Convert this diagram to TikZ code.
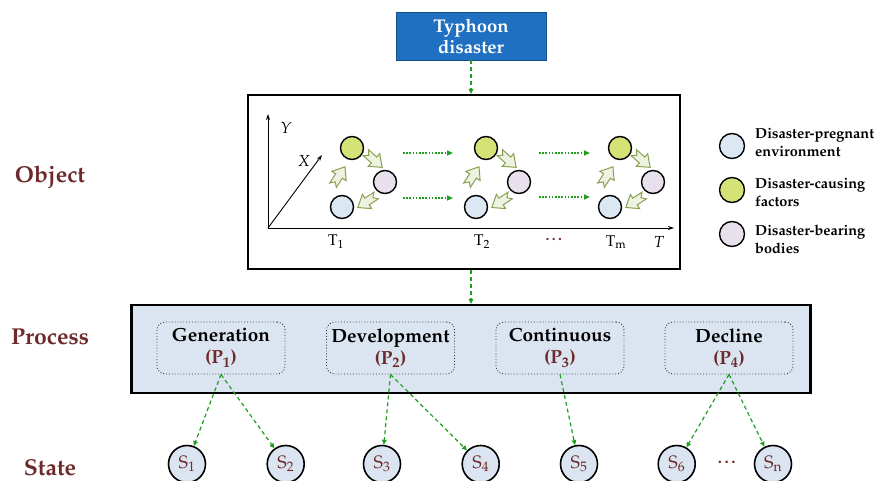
\documentclass[tikz,border=0pt]{standalone}
\usepackage[T1]{fontenc}
\usepackage{mathpazo}
\usetikzlibrary{arrows.meta}

\definecolor{typhblue}{RGB}{31,112,193}
\definecolor{dred}{RGB}{110,42,42}
\definecolor{procfill}{RGB}{219,229,241}
\definecolor{envfill}{RGB}{220,231,244}
\definecolor{causefill}{RGB}{212,226,118}
\definecolor{bodyfill}{RGB}{232,225,237}
\definecolor{flowgreen}{RGB}{30,160,30}
\definecolor{arrowfill}{RGB}{238,242,224}
\definecolor{arrowline}{RGB}{138,160,80}

\tikzset{
  flow/.style={draw=flowgreen, line width=1.2pt, dash pattern=on 4pt off 3pt,
    -{Triangle[length=5pt,width=4.5pt]}},
  drift/.style={draw=flowgreen, line width=1.6pt, dash pattern=on 1.6pt off 1.6pt,
    -{Triangle[length=6pt,width=5pt]}},
  axis/.style={draw=black, line width=0.9pt, -{Stealth[length=6pt,width=4pt]}},
  frame/.style={draw=black, line width=2.2pt, inner sep=0pt},
  ball/.style={circle, draw=black, line width=1.4pt, minimum size=23pt, inner sep=0pt},
  stage/.style={draw=black!80, line width=0.9pt, dotted, rounded corners=8pt,
    minimum width=128pt, minimum height=52pt, align=center,
    font=\fontsize{19}{22}\selectfont\bfseries},
  statenode/.style={circle, draw=black, line width=1.6pt, fill=procfill,
    minimum size=37pt, inner sep=0pt, text=dred, font=\fontsize{18}{20}\selectfont},
  level/.style={text=dred, font=\fontsize{23}{26}\selectfont\bfseries},
  legendtext/.style={anchor=west, align=left, inner sep=0pt,
    font=\fontsize{14.5}{18}\selectfont\bfseries},
  timelabel/.style={font=\fontsize{15.5}{17}\selectfont},
  axislabel/.style={font=\fontsize{16}{18}\selectfont\itshape},
  pics/swirl/.style={code={
    \draw[draw=arrowline, fill=arrowfill, line width=1pt, line join=miter]
      (-11,4) -- (0,4) -- (0,8.5) -- (11,0) -- (0,-8.5) -- (0,-4)
      -- (-11,-4) -- (-7,0) -- cycle;}},
}

\begin{document}
\begin{tikzpicture}[x=1pt,y=-1pt]
\useasboundingbox (0,0) rectangle (880,481);

% hazard source
\node[fill=typhblue, draw=typhblue!70!black, line width=0.5pt,
      minimum width=150pt, minimum height=48pt, text=white, align=center,
      font=\fontsize{18.5}{21}\selectfont\bfseries] (typhoon) at (471,36) {Typhoon\\disaster};

% level captions
\node[level] (lobject)  at (50,177) {Object};
\node[level] (lprocess) at (50,337) {Process};
\node[level] (lstate)   at (50,468) {State};

% object frame
\node[frame, minimum width=432pt, minimum height=174pt] (object) at (464,182) {};

% axes
\coordinate (origin) at (268,228);
\coordinate (ytip) at (268,114);
\coordinate (ttip) at (674,228);
\coordinate (xtip) at (322,155);
\draw[axis] (origin) -- (ytip);
\draw[axis] (origin) -- (ttip);
\draw[axis] (origin) -- (xtip);
\node[axislabel] (ylab) at (286,128) {Y};
\node[axislabel] (xlab) at (304,161) {X};
\node[axislabel] (tlab) at (659,242) {T};

% interacting elements at each time step
\foreach \i/\x in {1/352,2/486,3/620}{
  \pic[rotate=-42] at (\x+22,160) {swirl};
  \pic[rotate=213] at (\x+15,201.5) {swirl};
  \pic[rotate=57]  at (\x-13,176) {swirl};
  \node[ball, fill=causefill] (cause\i) at (\x,148) {};
  \node[ball, fill=bodyfill]  (body\i)  at (\x+33,182) {};
  \node[ball, fill=envfill]   (env\i)   at (\x-10,207) {};
}

% evolution between time steps
\coordinate (u1s) at (403,153); \coordinate (u1e) at (453,153);
\coordinate (d1s) at (403,198); \coordinate (d1e) at (453,198);
\coordinate (u2s) at (539,153); \coordinate (u2e) at (590,153);
\coordinate (d2s) at (539,197); \coordinate (d2e) at (590,197);
\draw[drift] (u1s) -- (u1e);
\draw[drift] (d1s) -- (d1e);
\draw[drift] (u2s) -- (u2e);
\draw[drift] (d2s) -- (d2e);

% time labels
\node[timelabel] (t1) at (336,242) {T\textsubscript{1}};
\node[timelabel] (t2) at (482,242) {T\textsubscript{2}};
\node[timelabel, text=dred] (tdots) at (555,240) {\textbf{\dots}};
\node[timelabel] (tm) at (616,242) {T\textsubscript{m}};

% legend
\node[ball, minimum size=25pt, fill=envfill]   (legenv)   at (732,146) {};
\node[ball, minimum size=25pt, fill=causefill] (legcause) at (732,190) {};
\node[ball, minimum size=25pt, fill=bodyfill]  (legbody)  at (732,234) {};
\node[legendtext] (txtenv)   at (755,143) {Disaster-pregnant\\environment};
\node[legendtext] (txtcause) at (755,193) {Disaster-causing\\factors};
\node[legendtext] (txtbody)  at (755,239) {Disaster-bearing\\bodies};

% process frame and stages
\node[frame, fill=procfill, minimum width=679pt, minimum height=88pt] (process) at (471,349) {};
\node[stage] (gen)  at (221,348)   {Generation\\\textcolor{dred}{(P\textsubscript{1})}};
\node[stage] (dev)  at (390.5,348) {Development\\\textcolor{dred}{(P\textsubscript{2})}};
\node[stage] (cont) at (560,348)   {Continuous\\\textcolor{dred}{(P\textsubscript{3})}};
\node[stage] (decl) at (729,348)   {Decline\\\textcolor{dred}{(P\textsubscript{4})}};

% flow between levels
\draw[flow] (typhoon.south) -- (typhoon.south |- object.north);
\draw[flow] (process.north |- object.south) -- (process.north);

% states
\node[statenode] (s1) at (187,464)   {S\textsubscript{1}};
\node[statenode] (s2) at (285.7,464) {S\textsubscript{2}};
\node[statenode] (s3) at (382,464)   {S\textsubscript{3}};
\node[statenode] (s4) at (480.7,464) {S\textsubscript{4}};
\node[statenode] (s5) at (579,464)   {S\textsubscript{5}};
\node[statenode] (s6) at (676.7,464) {S\textsubscript{6}};
\node[statenode] (sn) at (773,464)   {S\textsubscript{n}};
\node[text=dred, font=\fontsize{17}{20}\selectfont\bfseries] (sdots) at (728,462) {\dots};

\draw[flow] (gen.south)  -- (s1);
\draw[flow] (gen.south)  -- (s2);
\draw[flow] (dev.south)  -- (s3);
\draw[flow] (dev.south)  -- (s4);
\draw[flow] (cont.south) -- (s5);
\draw[flow] (decl.south) -- (s6);
\draw[flow] (decl.south) -- (sn);
\end{tikzpicture}
\end{document}
